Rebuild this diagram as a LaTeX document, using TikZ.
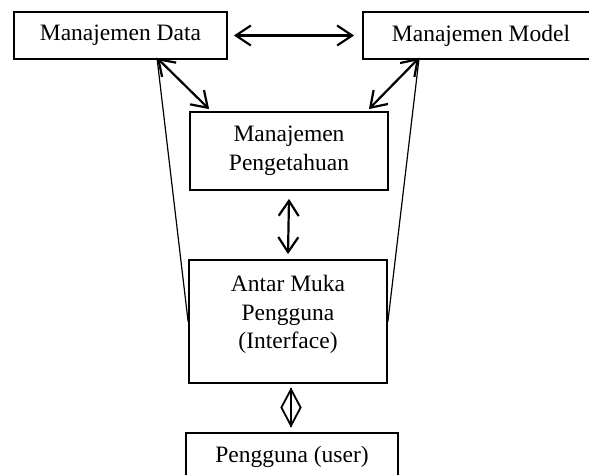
\documentclass[tikz,border=0pt]{standalone}
\usepackage{fontspec}
\setmainfont{Liberation Serif}
\usetikzlibrary{arrows.meta,shapes.geometric,calc}
\begin{document}
\begin{tikzpicture}[x=1pt,y=-1pt,
  box/.style={draw, line width=1.8pt, inner sep=0pt, align=center},
  lbl/.style={font=\fontsize{23.5}{28.5}\selectfont, align=center, inner sep=0pt},
  dbl/.style={line width=2.2pt, {Straight Barb[length=15pt,width=20pt]}-{Straight Barb[length=15pt,width=20pt]}},
  thin/.style={line width=1.2pt}]
\useasboundingbox (0,0) rectangle (589,474);
\node[box, minimum width=213pt, minimum height=47pt] (md) at (120.5,35.5) {};
\node[lbl] at (md) {Manajemen Data};
\node[box, minimum width=236pt, minimum height=47pt] (mm) at (481,35.5) {};
\node[lbl] at (mm) {Manajemen Model};
\node[box, minimum width=198pt, minimum height=78pt] (mp) at (289,151) {};
\node[lbl] at (mp) {Manajemen\\Pengetahuan};
\node[box, minimum width=198pt, minimum height=123pt] (am) at (288,321.5) {};
\node[lbl] (amt) at (288,314.5) {Antar Muka\\Pengguna\\(Interface)};
\node[box, minimum width=212pt, minimum height=47pt] (pu) at (292,456.5) {};
\node[lbl] at (pu) {Pengguna (user)};
% connectors
\coordinate (dA) at ($(md.south)+(36.5,-2)$);
\coordinate (mA) at ($(mm.south west)+(57,-2)$);
\draw[dbl] ([xshift=6pt]md.east) -- ([xshift=-8pt]mm.west);
\draw[dbl] (dA) -- ($(mp.north west)+(20,-2)$);
\draw[dbl] (mA) -- ($(mp.north east)+(-20,-2)$);
\draw[thin] (dA) -- (am.west);
\draw[thin] (mA) -- (am.east);
\draw[dbl] ([yshift=-8pt]mp.south) -- ([yshift=5pt]am.north);
\node[diamond, draw, line width=1.8pt, inner sep=0pt, minimum width=20pt, minimum height=37pt] (dia) at (291,407.5) {};
\draw[line width=1.8pt] (dia.north) -- (dia.south);
\end{tikzpicture}
\end{document}
